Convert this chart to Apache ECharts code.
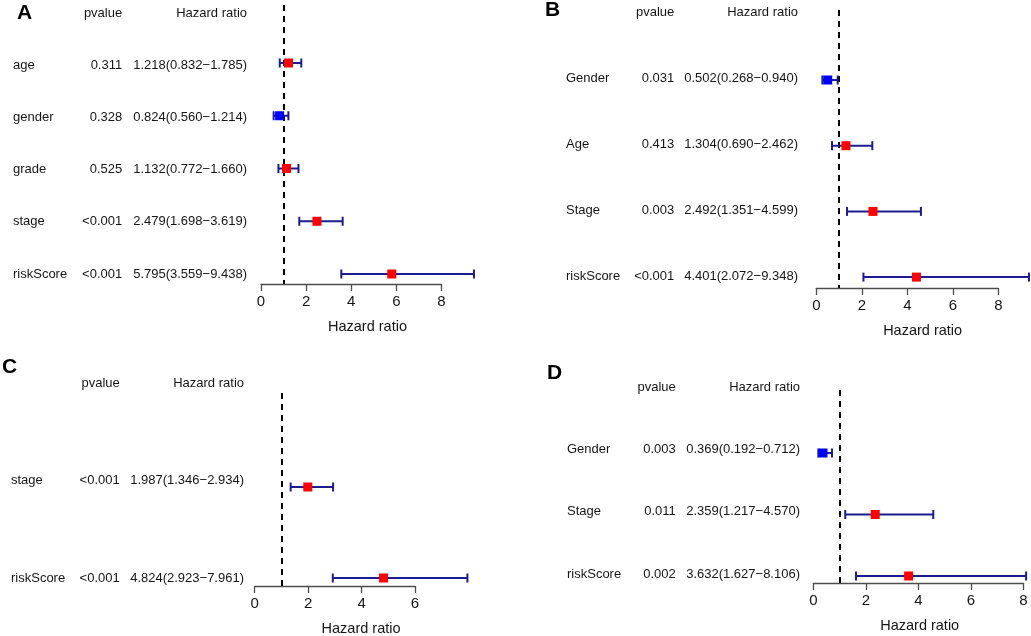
<!DOCTYPE html>
<html style="height: 100%">
<head>
<meta charset="utf-8">
<script src="https://cdn.jsdelivr.net/npm/echarts@6/dist/echarts.min.js"></script>
</head>
<body style="height: 100%; margin: 0; background: #ffffff">
<div id="container" style="width: 1031px; height: 636px"></div>
<script>
// panel A
var namesA = ['age', 'gender', 'grade', 'stage', 'riskScore'];
var pvalA = ['0.311', '0.328', '0.525', '<0.001', '<0.001'];
var hrA = [1.218, 0.824, 1.132, 2.479, 5.795];
var lowA = [0.832, 0.560, 0.772, 1.698, 3.559];
var highA = [1.785, 1.214, 1.660, 3.619, 9.438];

// panel B
var namesB = ['Gender', 'Age', 'Stage', 'riskScore'];
var pvalB = ['0.031', '0.413', '0.003', '<0.001'];
var hrB = [0.502, 1.304, 2.492, 4.401];
var lowB = [0.268, 0.690, 1.351, 2.072];
var highB = [0.940, 2.462, 4.599, 9.348];

// panel C
var namesC = ['stage', 'riskScore'];
var pvalC = ['<0.001', '<0.001'];
var hrC = [1.987, 4.824];
var lowC = [1.346, 2.923];
var highC = [2.934, 7.961];

// panel D
var namesD = ['Gender', 'Stage', 'riskScore'];
var pvalD = ['0.003', '0.011', '0.002'];
var hrD = [0.369, 2.359, 3.632];
var lowD = [0.192, 1.217, 1.627];
var highD = [0.712, 4.570, 8.106];

// x axis ticks
var ticks8 = [0, 2, 4, 6, 8];
var ticks6 = [0, 2, 4, 6];

var panels = [
    {letter: 'A', names: namesA, pval: pvalA, hr: hrA, low: lowA, high: highA, ticks: ticks8},
    {letter: 'B', names: namesB, pval: pvalB, hr: hrB, low: lowB, high: highB, ticks: ticks8},
    {letter: 'C', names: namesC, pval: pvalC, hr: hrC, low: lowC, high: highC, ticks: ticks6},
    {letter: 'D', names: namesD, pval: pvalD, hr: hrD, low: lowD, high: highD, ticks: ticks8}
];

// pixel layout of each panel
// plot: [left, top, width, height], rows: [first row y, row gap], text: [left, top, width, height]
var layout = [
    {lx: 17, ly: 13, plot: [261, 5, 180.5, 279], rows: [63, 52.75], text: [13, 13, 234, 261]},
    {lx: 545, ly: 10, plot: [816.3, 10, 182, 278], rows: [80, 65.7], text: [566, 12, 232, 264]},
    {lx: 2, ly: 367, plot: [254.7, 393, 160.3, 193], rows: [487, 91], text: [11, 383, 233, 195]},
    {lx: 547, ly: 373, plot: [813.3, 390, 210, 193], rows: [453, 61.5], text: [567, 387, 233, 187]}
];

var FONT = '"Liberation Sans", Arial, sans-serif';
var barColor = '#1c1c8e';
var textColor = '#151515';

function hrText(p, i) {
    return p.hr[i].toFixed(3) + '(' + p.low[i].toFixed(3) + '\u2212' + p.high[i].toFixed(3) + ')';
}

var grid = [], xAxis = [], yAxis = [], series = [];

panels.forEach(function (p, k) {
    var L = layout[k];
    var n = p.names.length;
    var plotIdx = grid.length;

    // forest plot grid
    grid.push({left: L.plot[0], top: L.plot[1], width: L.plot[2], height: L.plot[3], containLabel: false});
    xAxis.push({
        gridIndex: plotIdx, type: 'value', position: 'bottom',
        min: p.ticks[0], max: p.ticks[p.ticks.length - 1], interval: 2,
        splitLine: {show: false},
        axisLine: {show: true, onZero: false, lineStyle: {color: '#4d4d4d', width: 1.3}},
        axisTick: {show: true, length: 7, lineStyle: {color: '#4d4d4d', width: 1.3}},
        axisLabel: {fontSize: 15, color: textColor, fontFamily: FONT, margin: 10}
    });
    yAxis.push({
        gridIndex: plotIdx, type: 'value', inverse: true, show: false,
        min: (L.plot[1] - L.rows[0]) / L.rows[1],
        max: (L.plot[1] + L.plot[3] - L.rows[0]) / L.rows[1]
    });

    var forestData = p.hr.map(function (v, i) { return [i, v, p.low[i], p.high[i]]; });
    series.push({
        type: 'custom',
        xAxisIndex: plotIdx, yAxisIndex: plotIdx,
        clip: false,
        z: 3,
        encode: {x: [1, 2, 3], y: 0},
        data: forestData,
        renderItem: function (params, api) {
            var r = api.value(0);
            var m = api.coord([api.value(1), r]);
            var lo = api.coord([api.value(2), r]);
            var hi = api.coord([api.value(3), r]);
            var ls = {stroke: barColor, lineWidth: 2};
            return {
                type: 'group',
                children: [
                    {type: 'line', shape: {x1: lo[0], y1: lo[1], x2: hi[0], y2: hi[1]}, style: ls},
                    {type: 'line', shape: {x1: lo[0], y1: lo[1] - 4.5, x2: lo[0], y2: lo[1] + 4.5}, style: ls},
                    {type: 'line', shape: {x1: hi[0], y1: hi[1] - 4.5, x2: hi[0], y2: hi[1] + 4.5}, style: ls},
                    {type: 'rect', shape: {x: m[0] - 4.5, y: m[1] - 4.5, width: 9, height: 9},
                        style: {fill: api.value(1) > 1 ? '#ff0000' : '#0000ff'}}
                ]
            };
        },
        markLine: {
            silent: true, symbol: 'none', z: 2,
            label: {show: false},
            lineStyle: {color: '#000000', width: 2, type: [6, 5]},
            data: [{xAxis: 1}]
        }
    });

    // text table grid: x 0..3, header at row 0
    var textIdx = grid.length;
    grid.push({left: L.text[0], top: L.text[1], width: L.text[2], height: L.text[3], containLabel: false});
    xAxis.push({gridIndex: textIdx, type: 'value', min: 0, max: 3, show: false});
    yAxis.push({gridIndex: textIdx, type: 'value', min: 0, max: n, inverse: true, show: false});

    var rowsText = [['', 'pvalue', 'Hazard ratio']];
    p.names.forEach(function (name, i) {
        rowsText.push([name, p.pval[i], hrText(p, i)]);
    });
    series.push({
        type: 'custom',
        xAxisIndex: textIdx, yAxisIndex: textIdx,
        clip: false,
        encode: {x: 0, y: 1},
        data: rowsText.map(function (t, i) { return [0, i]; }),
        renderItem: function (params, api) {
            var r = api.value(1);
            var t = rowsText[params.dataIndex];
            var c0 = api.coord([0, r]), c1 = api.coord([1.4, r]), c2 = api.coord([3, r]);
            function txt(c, s, align) {
                return {type: 'text', x: c[0], y: c[1],
                    style: {text: s, fill: textColor, font: '13px ' + FONT, align: align, verticalAlign: 'middle'}};
            }
            return {type: 'group', children: [txt(c0, t[0], 'left'), txt(c1, t[1], 'right'), txt(c2, t[2], 'right')]};
        }
    });
});

var dom = document.getElementById('container');
var myChart = echarts.init(dom);

var option = {
    backgroundColor: '#ffffff',
    animation: false,
    grid: grid,
    xAxis: xAxis,
    yAxis: yAxis,
    series: series
};
myChart.setOption(option);

// panel letters and x axis titles (title centred on the plotted range, as in R)
var graphics = [];
panels.forEach(function (p, k) {
    var L = layout[k];
    graphics.push({
        type: 'text', x: L.lx, y: L.ly,
        style: {text: p.letter, fill: '#000000', font: 'bold 21px ' + FONT, align: 'left', verticalAlign: 'middle'}
    });
    var xmax = Math.max.apply(null, p.high);
    var cx = myChart.convertToPixel({xAxisIndex: k * 2}, xmax / 2);
    graphics.push({
        type: 'text', x: cx, y: L.plot[1] + L.plot[3] + 43,
        style: {text: 'Hazard ratio', fill: textColor, font: '14.5px ' + FONT, align: 'center', verticalAlign: 'middle'}
    });
});
myChart.setOption({graphic: graphics});
</script>
</body>
</html>
